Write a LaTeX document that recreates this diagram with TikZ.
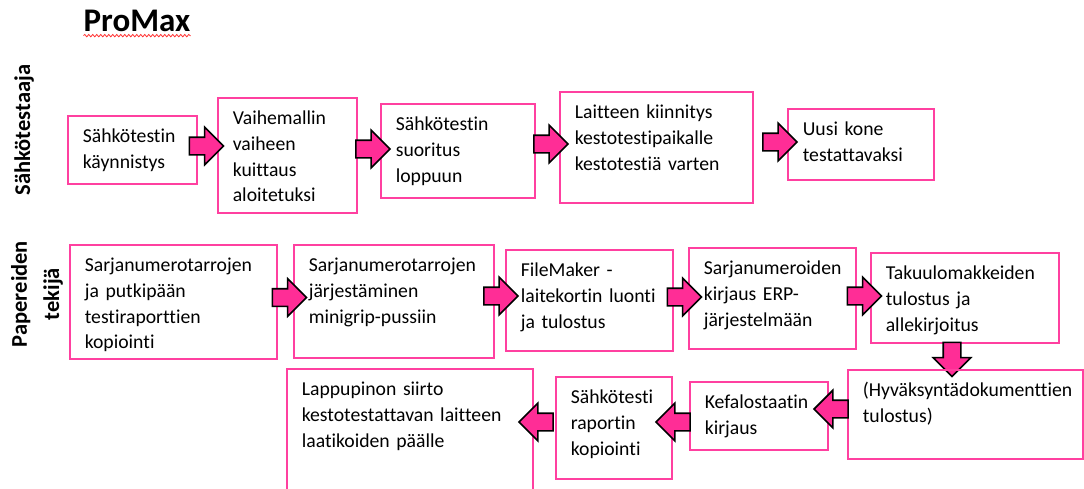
\documentclass[tikz,border=0pt]{standalone}
\usepackage{fontspec}
\setmainfont{Carlito}[Ligatures=NoCommon]
\usetikzlibrary{shapes.arrows,decorations.pathmorphing}
\definecolor{boxpink}{RGB}{255,64,160}
\definecolor{arrowpink}{RGB}{255,45,150}

\begin{document}
\begin{tikzpicture}[x=1pt, y=-1pt,
        proc/.style={draw=boxpink, line width=1.6pt, anchor=north west, align=left,
            inner xsep=15pt, inner ysep=10pt, text height=17pt,
            font=\fontsize{19.7}{25.7}\selectfont},
        blockarrow/.style={single arrow, draw=black, fill=arrowpink, line width=1.6pt,
            minimum height=34pt, inner xsep=0pt, inner ysep=8pt, single arrow head extend=10pt},
        lane/.style={rotate=90, anchor=base, font=\fontsize{22.5}{25}\selectfont\bfseries}]
    \useasboundingbox (0, 0) rectangle (1084, 488);
    \clip (0, 0) rectangle (1084, 488);

    \node[anchor=base, inner sep=0pt, font=\fontsize{33}{36}\selectfont\bfseries] (title) at (137, 31.7) {ProMax};
    \draw[red!80, line width=0.8pt, decorate, decoration={snake, amplitude=1.2pt, segment length=4pt}]
        ([yshift=-3.5pt]title.south west) -- ([yshift=-3.5pt]title.south east);

    \node[lane] (lane1) at (30, 130) {Sähkötestaaja};
    \node[lane] (lane2a) at (27, 294) {Papereiden};
    \node[lane] (lane2b) at (59, 294) {tekijä};

    % first row
    \node[proc, text width=99pt,  text depth=31pt] (b1) at (67, 115)  {Sähkötestin\\käynnistys};
    \node[proc, text width=109pt, text depth=78pt] (b2) at (217, 97)  {Vaihemallin\\vaiheen\\kuittaus\\aloitetuksi};
    \node[proc, text width=124pt, text depth=57pt] (b3) at (380, 103) {Sähkötestin\\suoritus\\loppuun};
    \node[proc, text width=163pt, text depth=74pt] (b4) at (559, 91)  {Laitteen kiinnitys\\kestotestipaikalle\\kestotestiä varten};
    \node[proc, text width=116pt, text depth=34pt] (b5) at (787, 108) {Uusi kone\\testattavaksi};

    \node[blockarrow] (a12) at (202, 146)   {}; %  b1 -- b2
    \node[blockarrow] (a23) at (368.5, 149) {}; %  b2 -- b3
    \node[blockarrow] (a34) at (546.5, 144) {}; %  b3 -- b4
    \node[blockarrow] (a45) at (775.5, 142) {}; %  b4 -- b5

    % second row
    \node[proc, text width=177pt, text depth=77pt] (bA) at (69, 244)  {Sarjanumerotarrojen\\ja putkipään\\testiraporttien\\kopiointi};
    \node[proc, text width=170pt, text depth=76pt] (bB) at (293, 244) {Sarjanumerotarrojen\\järjestäminen\\minigrip-pussiin};
    \node[proc, text width=137pt, text depth=64pt] (bC) at (505, 249) {FileMaker -\\laitekortin luonti\\ja tulostus};
    \node[proc, text width=137pt, text depth=64pt] (bD) at (688, 247) {Sarjanumeroiden\\kirjaus ERP-\\järjestelmään};
    \node[proc, text width=158pt, text depth=53pt] (bE) at (870, 252) {Takuulomakkeiden\\tulostus ja\\allekirjoitus};

    \node[blockarrow] (aAB) at (285, 297.5) {}; %  bA -- bB
    \node[blockarrow] (aBC) at (496.5, 296) {}; %  bB -- bC
    \node[blockarrow] (aCD) at (680, 297)   {}; %  bC -- bD
    \node[blockarrow] (aDE) at (860, 296)   {}; %  bD -- bE
    \node[blockarrow, rotate=-90] (aEF) at (952, 355) {}; %  bE -- bF

    % third row, right to left
    \node[proc, text width=205pt, text depth=52pt] (bF) at (847, 369) {(Hyväksyntädokumenttien\\tulostus)};
    \node[proc, text width=108pt, text depth=31pt] (bG) at (689, 381) {Kefalostaatin\\kirjaus};
    \node[proc, text width=86pt,  text depth=65pt] (bH) at (555, 376) {Sähkötesti\\raportin\\kopiointi};
    \node[proc, text width=216pt, text depth=95pt] (bI) at (286, 368) {Lappupinon siirto\\kestotestattavan laitteen\\laatikoiden päälle};

    \node[blockarrow, shape border rotate=180] (aFG) at (835.5, 409) {}; %  bF -- bG
    \node[blockarrow, shape border rotate=180] (aGH) at (677.5, 422) {}; %  bG -- bH
    \node[blockarrow, shape border rotate=180] (aHI) at (540.5, 422) {}; %  bH -- bI
\end{tikzpicture}
\end{document}
